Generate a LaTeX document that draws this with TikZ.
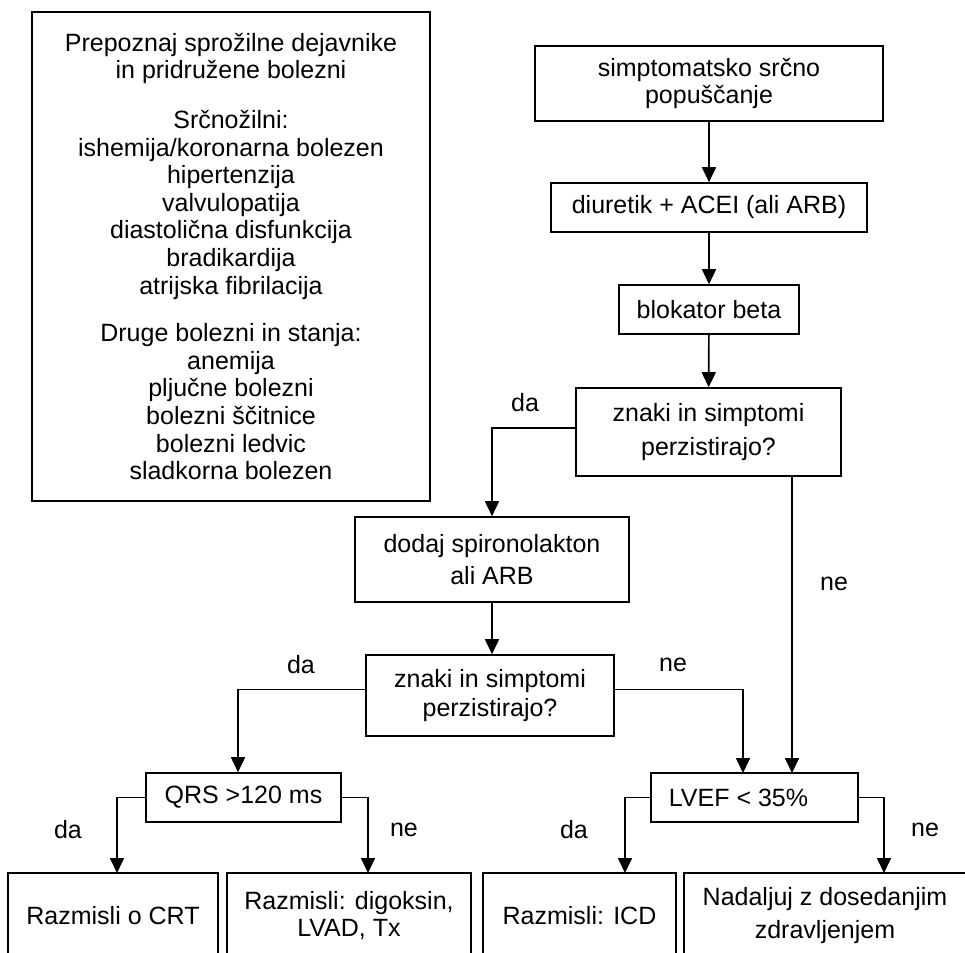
\documentclass[tikz,border=0pt]{standalone}
\usepackage{fontspec}
\setmainfont{Liberation Sans}
\usetikzlibrary{arrows.meta}

\begin{document}
\begin{tikzpicture}[x=0.5pt, y=-0.5pt,
  every node/.style={font=\fontsize{12.5}{13.8}\selectfont},
  box/.style={draw, line width=0.8pt, align=center, inner sep=0pt},
  arr/.style={line width=0.85pt, -{Triangle[length=7.5pt, width=7pt]}}]
\useasboundingbox (0,0) rectangle (965,953);

\node[box, minimum width=199pt, minimum height=244.5pt] (risk) at (231,256.5)
  {Prepoznaj sprožilne dejavnike\\ in pridružene bolezni\\[11pt]
   Srčnožilni:\\ ishemija/koronarna bolezen\\ hipertenzija\\ valvulopatija\\
   diastolična disfunkcija\\ bradikardija\\ atrijska fibrilacija\\[10pt]
   Druge bolezni in stanja:\\ anemija\\ pljučne bolezni\\ bolezni ščitnice\\
   bolezni ledvic\\ sladkorna bolezen};

\node[box, minimum width=174pt, minimum height=37.5pt] (start) at (709,83.5) {simptomatsko srčno\\ popuščanje};
\node[box, minimum width=158pt, minimum height=24.5pt] (diur) at (709,207.5) {diuretik + ACEI (ali ARB)};
\node[box, minimum width=90pt, minimum height=24.5pt] (beta) at (709,309.5) {blokator beta};
\node[box, minimum width=132.5pt, minimum height=44pt] (dec1) at (708.5,432) {znaki in simptomi\\[3pt] perzistirajo?};
\node[box, minimum width=137pt, minimum height=42.5pt] (spiro) at (492,559.5) {dodaj spironolakton\\[2pt] ali ARB};
\node[box, minimum width=124pt, minimum height=40.5pt] (dec2) at (490,695.5) {znaki in simptomi\\[1pt] perzistirajo?};
\node[box, minimum width=97.5pt, minimum height=24.5pt] (qrs) at (243.5,797.5) {QRS >120 ms};
\node[box, minimum width=103.5pt, minimum height=24.5pt] (lvef) at (754.5,797.5) {LVEF < 35\%\hspace*{16pt}};
\node[box, minimum width=105pt, minimum height=42.5pt] (crt) at (113,915.5) {Razmisli o CRT};
\node[box, minimum width=122pt, minimum height=42.5pt] (alt) at (349,915.5) {Razmisli: digoksin,\\ LVAD, Tx};
\node[box, minimum width=96.5pt, minimum height=42.5pt] (icd) at (579.5,915.5) {Razmisli: ICD};
\node[box, minimum width=141pt, minimum height=42.5pt] (cont) at (825,915.5) {Nadaljuj z dosedanjim\\[3pt] zdravljenjem};

\coordinate (lvefA) at (743,773);
\coordinate (lvefB) at (792,773);
\coordinate (crtin) at (117,873);
\coordinate (altin) at (368,873);
\coordinate (icdin) at (625,873);
\coordinate (contin) at (884,873);

\draw[arr] (start) -- (diur);
\draw[arr] (diur) -- (beta);
\draw[arr] (beta) -- (dec1);
\draw[arr] ([yshift=2pt]dec1.west) -| (spiro.north);
\draw[arr] (dec1.south -| lvefB) -- (lvefB);
\draw[arr] (spiro.south) -- (spiro.south |- dec2.north);
\draw[arr] ([yshift=3pt]dec2.west) -| (qrs.north -| 238,0);
\draw[arr] ([yshift=3pt]dec2.east) -| (lvefA);
\draw[arr] (qrs.west) -| (crtin);
\draw[arr] (qrs.east) -| (altin);
\draw[arr] (lvef.west) -| (icdin);
\draw[arr] (lvef.east) -| (contin);

\node (da1) at (525,403) {da};
\node (ne1) at (834,584) {ne};
\node (da2) at (301,665) {da};
\node (ne2) at (673,665) {ne};
\node (da3) at (68,830) {da};
\node (ne3) at (404,830) {ne};
\node (da4) at (574,830) {da};
\node (ne4) at (925,830) {ne};
\end{tikzpicture}
\end{document}
